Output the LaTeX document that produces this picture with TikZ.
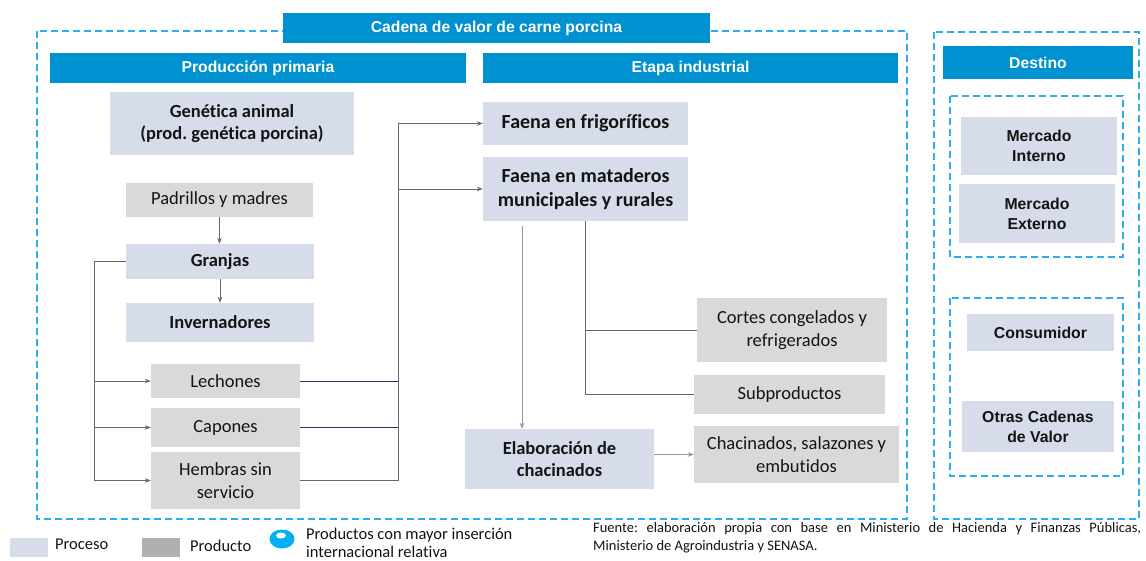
\documentclass[tikz,border=0pt]{standalone}
\usepackage{fontspec}
\setmainfont{Carlito}[RawFeature={-liga;-clig;-dlig}]
\newfontfamily\hdrfont{Liberation Sans}
\usetikzlibrary{arrows.meta}
\definecolor{barblue}{RGB}{0,145,208}
\definecolor{dashblue}{RGB}{45,172,240}
\definecolor{procfill}{RGB}{214,220,234}
\definecolor{prodfill}{RGB}{217,217,217}
\definecolor{legprod}{RGB}{176,176,176}
\definecolor{linegray}{RGB}{105,105,105}
\definecolor{lightline}{RGB}{150,150,150}
\definecolor{navyline}{RGB}{31,56,100}
\definecolor{iconblue}{RGB}{0,176,240}
\definecolor{txt}{RGB}{20,20,20}
\frenchspacing
\begin{document}
\begin{tikzpicture}[x=1pt,y=-1pt,
 box/.style={inner sep=0pt, align=center, text=txt},
 proc/.style={box, fill=procfill, font=\fontsize{18.5}{22.7}\selectfont\bfseries},
 procbig/.style={box, fill=procfill, font=\fontsize{20}{24}\selectfont\bfseries},
 prod/.style={box, fill=prodfill, font=\fontsize{18.5}{22.7}\selectfont},
 bar/.style={box, fill=barblue, text=white, font=\hdrfont\fontsize{15.7}{19}\selectfont\bfseries},
 dest/.style={box, fill=procfill, font=\hdrfont\fontsize{15.8}{20}\selectfont\bfseries},
 frame/.style={draw=dashblue, line width=1.4pt, dash pattern=on 7pt off 4pt},
 conn/.style={draw=linegray, line width=0.8pt},
 arr/.style={conn, -{Stealth[length=6pt,width=4.5pt]}},
 legtext/.style={inner sep=0pt, align=left, text=txt, font=\fontsize{16.5}{18}\selectfont},
]
\fill[white] (0,0) rectangle (1146,560);
\useasboundingbox (0,0) rectangle (1146,560);

% frames
\draw[frame] (37,31) rectangle (907,519);
\draw[frame] (934,32) rectangle (1139,519);
\draw[frame] (950,96) rectangle (1123,257);
\draw[frame] (950,298) rectangle (1123,476);

% header bars
\node[bar, minimum width=427pt, minimum height=30pt] (title) at (496.5,28) {Cadena de valor de carne porcina};
\node[bar, minimum width=416pt, minimum height=30pt] (pp) at (258,68) {Producción primaria};
\node[bar, minimum width=415pt, minimum height=30pt] (ei) at (690.5,68) {Etapa industrial};
\node[bar, minimum width=190pt, minimum height=33pt] (dst) at (1038,62.5) {Destino};

% primary production
\node[proc, minimum width=244pt, minimum height=63pt] (gen) at (232,123.5) {Genética animal\\(prod. genética porcina)};
\node[prod, minimum width=187pt, minimum height=34pt] (padr) at (219.5,200) {Padrillos y madres};
\node[proc, minimum width=188pt, minimum height=35pt] (granjas) at (220,261.5) {Granjas};
\node[proc, minimum width=188pt, minimum height=39pt] (inver) at (220,322.5) {Invernadores};
\node[prod, minimum width=149pt, minimum height=34pt] (lech) at (225.5,381) {Lechones};
\node[prod, minimum width=149pt, minimum height=39pt] (capo) at (225.5,427.5) {Capones};
\node[prod, minimum width=149pt, minimum height=57pt] (hemb) at (225.5,480.5) {Hembras sin\\servicio};

% industrial
\node[procbig, minimum width=205pt, minimum height=43pt] (frig) at (585.5,123.5) {Faena en frigoríficos};
\node[procbig, minimum width=205pt, minimum height=64pt] (mat) at (585.5,189) {Faena en mataderos\\municipales y rurales};
\node[prod, minimum width=190pt, minimum height=64pt] (cortes) at (792,330) {Cortes congelados y\\refrigerados};
\node[prod, minimum width=191pt, minimum height=39pt] (subp) at (789.5,394.5) {Subproductos};
\node[proc, minimum width=189pt, minimum height=60pt] (elab) at (559.5,459) {Elaboración de\\chacinados};
\node[prod, minimum width=205pt, minimum height=57pt] (chac) at (796.5,454.5) {Chacinados, salazones y\\embutidos};

% destino
\node[dest, minimum width=156pt, minimum height=58pt] (mi) at (1039,146) {Mercado\\Interno};
\node[dest, minimum width=156pt, minimum height=59pt] (me) at (1037,213.5) {Mercado\\Externo};
\node[dest, minimum width=147pt, minimum height=37pt] (cons) at (1040.5,332.5) {Consumidor};
\node[dest, minimum width=152pt, minimum height=51pt] (otras) at (1038,426.5) {Otras Cadenas\\de Valor};

% connectors left
\draw[arr] (padr.south) -- (padr.south |- granjas.north);
\draw[arr] (granjas.south) -- (granjas.south |- inver.north);
\coordinate (lb) at (94,0);
\draw[arr] (granjas.west) -| (lb |- hemb.west) -- (hemb.west);
\draw[arr] (lb |- lech.west) -- (lech.west);
\draw[arr] (lb |- capo.west) -- (capo.west);

% right bus
\coordinate (rb) at (398,0);
\draw[conn, draw=navyline] (lech.east) -- (rb |- lech.east);
\draw[conn, draw=navyline] (capo.east) -- (rb |- capo.east);
\draw[arr] (hemb.east) -- (rb |- hemb.east) -- (rb |- frig.west) -- (frig.west);
\draw[arr] (rb |- mat.west) -- (mat.west);

% industrial connectors
\coordinate (c1) at (522,226);
\draw[arr, draw=lightline] (c1) -- (c1 |- elab.north);
\draw[conn] (mat.south) |- (subp.west);
\draw[conn] (mat.south |- cortes.west) -- (cortes.west);
\draw[arr, draw=lightline, line width=1.2pt] (elab.east |- chac.west) -- (chac.west);

% legend
\fill[procfill] (10,538) rectangle (48,557);
\node[legtext, anchor=west] (lp) at (55,544) {Proceso};
\fill[legprod] (142,538) rectangle (180,557);
\node[legtext, anchor=west] (lq) at (190,546) {Producto};
\fill[iconblue] (282,539) ellipse [x radius=12.5pt, y radius=9.5pt];
\fill[white] (281,535.5) ellipse [x radius=5pt, y radius=3pt];
\node[legtext, anchor=west] (li) at (306,543) {Productos con mayor inserción\\internacional relativa};
\node[inner sep=0pt, anchor=north west, text width=548pt, align=justify, text=txt, font=\fontsize{14.5}{18}\selectfont] (src) at (593,522) {Fuente: elaboración propia con base en Ministerio de Hacienda y Finanzas Públicas,\linebreak Ministerio de Agroindustria y SENASA.};
\end{tikzpicture}
\end{document}
